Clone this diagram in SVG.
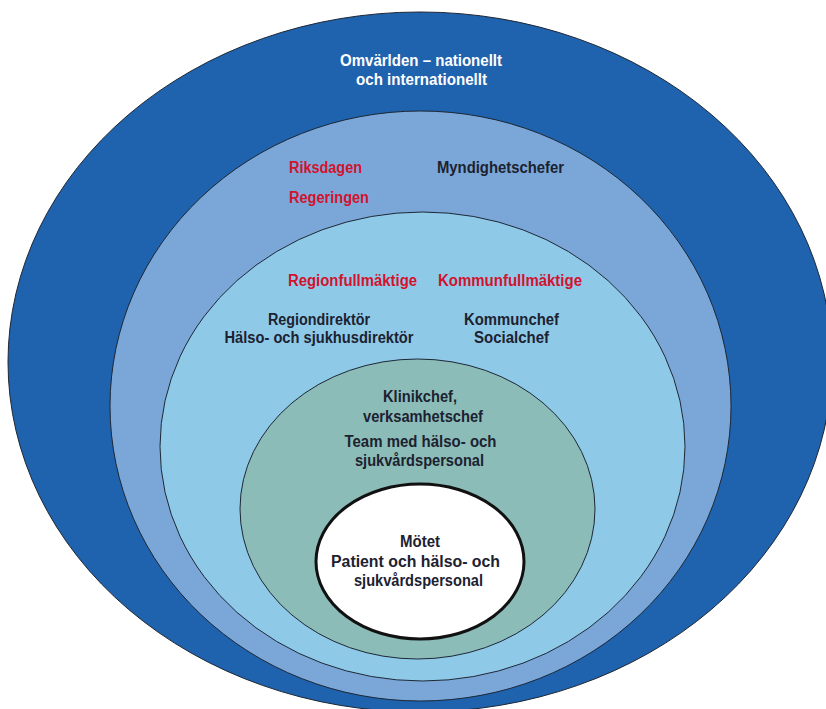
<svg xmlns="http://www.w3.org/2000/svg" width="826" height="709" viewBox="0 0 826 709">
  <style>
    .ring { stroke: #1d2735; stroke-width: 1; }
    .t { font-family: "Liberation Sans", Arial, sans-serif; font-weight: bold; font-size: 16px; }
    .w { fill: #ffffff; }
    .r { fill: #d3122e; }
    .d { fill: #1c2230; }
    .m { text-anchor: middle; }
  </style>
  <rect x="0" y="0" width="826" height="709" fill="#ffffff"/>
  <g id="omvarlden">
    <ellipse class="ring" cx="420" cy="362" rx="412" ry="350" fill="#1f62ad"/>
    <text class="t w m" x="421" y="66" textLength="162" lengthAdjust="spacingAndGlyphs">Omvärlden – nationellt</text>
    <text class="t w m" x="421.5" y="85" textLength="131" lengthAdjust="spacingAndGlyphs">och internationellt</text>
  </g>
  <g id="nationell">
    <ellipse class="ring" cx="420.5" cy="406" rx="310.5" ry="295" fill="#7aa7d8"/>
    <text class="t r" x="289" y="173" textLength="73" lengthAdjust="spacingAndGlyphs">Riksdagen</text>
    <text class="t r" x="289" y="203" textLength="80" lengthAdjust="spacingAndGlyphs">Regeringen</text>
    <text class="t d" x="437" y="173" textLength="127" lengthAdjust="spacingAndGlyphs">Myndighetschefer</text>
  </g>
  <g id="regional">
    <ellipse class="ring" cx="422.5" cy="446.5" rx="262.5" ry="234.5" fill="#8fc9e8"/>
    <text class="t r" x="288" y="286" textLength="129" lengthAdjust="spacingAndGlyphs">Regionfullmäktige</text>
    <text class="t r" x="438" y="286" textLength="144" lengthAdjust="spacingAndGlyphs">Kommunfullmäktige</text>
    <text class="t d m" x="319" y="325" textLength="102" lengthAdjust="spacingAndGlyphs">Regiondirektör</text>
    <text class="t d m" x="319" y="343" textLength="189" lengthAdjust="spacingAndGlyphs">Hälso- och sjukhusdirektör</text>
    <text class="t d m" x="511.5" y="325" textLength="95" lengthAdjust="spacingAndGlyphs">Kommunchef</text>
    <text class="t d m" x="511.5" y="343" textLength="75" lengthAdjust="spacingAndGlyphs">Socialchef</text>
  </g>
  <g id="verksamhet">
    <ellipse class="ring" cx="417.5" cy="509" rx="177.5" ry="150" fill="#8bbcb8"/>
    <text class="t d m" x="420" y="402" textLength="74" lengthAdjust="spacingAndGlyphs">Klinikchef,</text>
    <text class="t d m" x="423" y="422" textLength="120" lengthAdjust="spacingAndGlyphs">verksamhetschef</text>
    <text class="t d m" x="420.5" y="447" textLength="152" lengthAdjust="spacingAndGlyphs">Team med hälso- och</text>
    <text class="t d m" x="419.5" y="466" textLength="129" lengthAdjust="spacingAndGlyphs">sjukvårdspersonal</text>
  </g>
  <g id="motet">
    <ellipse cx="420" cy="561.5" rx="104" ry="77.5" fill="#ffffff" stroke="#111111" stroke-width="3"/>
    <text class="t d m" x="420" y="547" textLength="40" lengthAdjust="spacingAndGlyphs">Mötet</text>
    <text class="t d m" x="415.5" y="567" textLength="169" lengthAdjust="spacingAndGlyphs">Patient och hälso- och</text>
    <text class="t d m" x="418.5" y="586" textLength="129" lengthAdjust="spacingAndGlyphs">sjukvårdspersonal</text>
  </g>
  <g id="connectors"/>
</svg>
